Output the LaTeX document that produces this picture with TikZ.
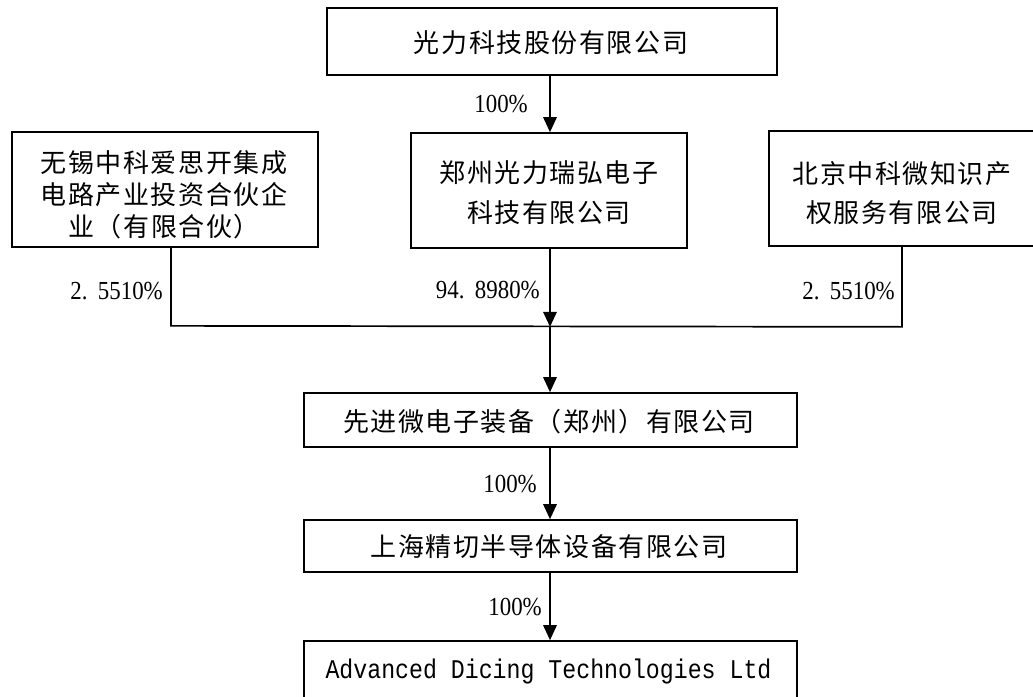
\documentclass[tikz,border=0pt]{standalone}
\usepackage{fontspec}
\setmainfont{Liberation Serif}
\newfontfamily\cjk{Noto Sans CJK SC}[LetterSpace=6]
\newfontfamily\monofnt{Liberation Mono}[FakeStretch=0.86]
\newfontfamily\numfnt{Liberation Serif}[FakeStretch=0.88]
\usetikzlibrary{arrows.meta,calc}
\begin{document}
\begin{tikzpicture}[x=1pt,y=-1pt,
  box/.style={draw, line width=1.7pt, inner sep=0pt},
  txt/.style={inner sep=0pt, align=center},
  lbl/.style={anchor=east, inner sep=0pt, font=\numfnt\fontsize{26}{26}\selectfont},
  conn/.style={line width=1.7pt},
  arr/.style={conn, -{Triangle[width=13.5pt,length=15pt]}}]
\useasboundingbox (0,0) rectangle (1033,696);
% boxes
\node[box, minimum width=450, minimum height=67] (top) at (552,41.5) {};
\node[box, minimum width=276, minimum height=115] (mid) at (549,190.5) {};
\node[box, minimum width=306, minimum height=115] (left) at (165,189.5) {};
\node[box, minimum width=266, minimum height=115] (right) at (902,188.5) {};
\node[box, minimum width=493, minimum height=54] (xj) at (550.5,420) {};
\node[box, minimum width=493, minimum height=52] (sh) at (550.5,546) {};
\node[box, minimum width=493, minimum height=69] (adt) at (550.5,675.5) {};
% texts
\node[txt, font=\cjk\fontsize{26}{26}\selectfont] (topT) at (551,43) {光力科技股份有限公司};
\node[txt, font=\cjk\fontsize{26}{40}\selectfont] (midT) at (549,193) {郑州光力瑞弘电子\\科技有限公司};
\node[txt, font=\cjk\fontsize{26}{32}\selectfont] (leftT) at (164,195) {无锡中科爱思开集成\\电路产业投资合伙企\\业（有限合伙）};
\node[txt, font=\cjk\fontsize{26}{39}\selectfont] (rightT) at (902,193.5) {北京中科微知识产\\权服务有限公司};
\node[txt, font=\cjk\fontsize{26}{26}\selectfont] (xjT) at (549,422) {先进微电子装备（郑州）有限公司};
\node[txt, font=\cjk\fontsize{26}{26}\selectfont] (shT) at (549,547) {上海精切半导体设备有限公司};
\node[txt, font=\monofnt\fontsize{27}{27}\selectfont] (adtT) at (548.5,672) {Advanced Dicing Technologies Ltd};
% connectors
\coordinate (j) at ($(mid.south)+(1,78)$);
\draw[arr] (top.south -| j) -- (mid.north -| j);
\draw[arr] (mid.south -| j) -- (j);
\draw[conn] ($(left.south)+(6,0)$) -- ($(left.south)+(6,78)$) -- (j -| right.south) -- (right.south);
\draw[arr] (j) -- (xj.north -| j);
\draw[arr] (xj.south -| j) -- (sh.north -| j);
\draw[arr] (sh.south -| j) -- (adt.north -| j);
% labels
\node[lbl] (p1) at (528,104) {100\%};
\node[lbl] (p2) at (163,291) {2.\kern0.4em5510\%};
\node[lbl] (p3) at (540,290) {94.\kern0.4em8980\%};
\node[lbl] (p4) at (895,291) {2.\kern0.4em5510\%};
\node[lbl] (p5) at (537,484) {100\%};
\node[lbl] (p6) at (542,607) {100\%};
\end{tikzpicture}
\end{document}
